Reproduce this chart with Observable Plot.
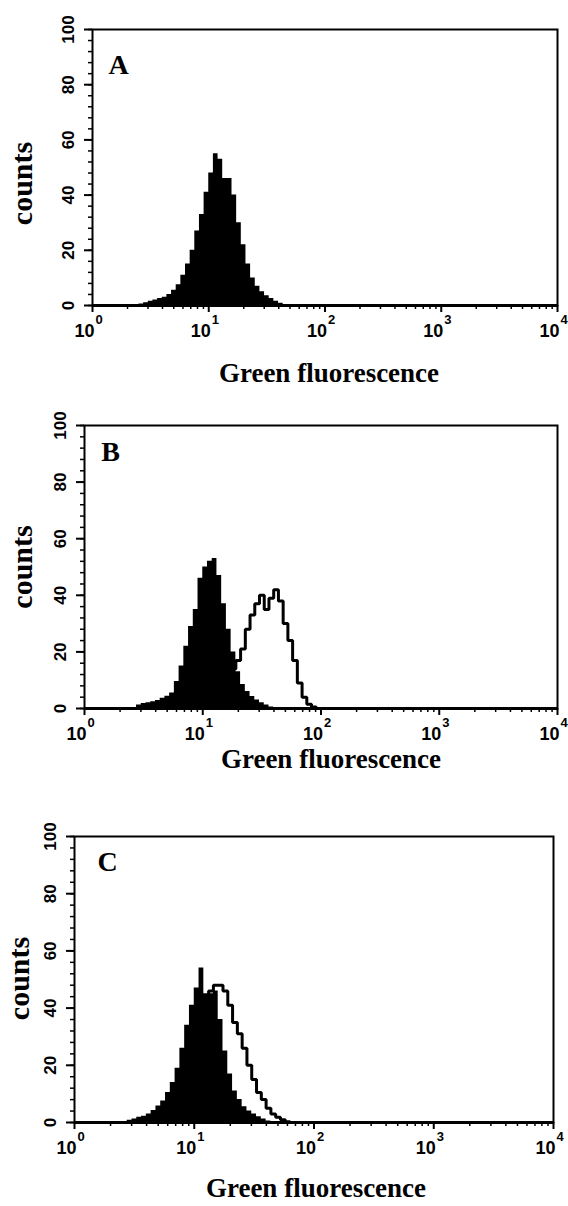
<!DOCTYPE html>
<html><head><meta charset="utf-8">
<script src="https://cdn.jsdelivr.net/npm/d3@7"></script>
<script src="https://cdn.jsdelivr.net/npm/@observablehq/plot@0.6"></script>
<style>
html,body{margin:0;padding:0;background:#fff;overflow:hidden;}
#wrap{position:relative;width:568px;height:1206px;background:#fff;}
#wrap svg{position:absolute;left:0;}
</style></head><body><div id="wrap"></div>
<script>
// bin lower edges in log10(fluorescence) units
const logEdges = [0.36,0.40,0.44,0.48,0.52,0.56,0.60,0.64,0.68,0.72,0.76,0.80,0.84,0.88,0.92,0.96,1.00,1.04,1.08,1.12,1.16,1.20,1.24,1.28,1.32,1.36,1.40,1.44,1.48,1.52,1.56,1.60,1.64,1.68,1.72,1.76,1.80,1.84,1.88,1.92,1.96];
// counts per bin
const countsA_filled = [0.3,0.5,1.0,1.5,2.0,2.5,3.0,4.0,5.5,7.5,11,15,20,27,33,41,48,55,53,46,46,40,30,22,15,10,7,5,3.5,2.5,1.5,0.8,0.3,0,0,0,0,0,0,0];
const countsB_filled = [0,0.3,1.2,1.8,2.0,2.4,2.8,3.6,4.3,5.5,9.5,15,22,29,35,46,50,52,53,47,37,28,20,13,8.5,6,4.2,3,2,1.2,0.5,0,0,0,0,0,0,0,0,0];
const countsB_open   = [0,0,0,0,0,0,0,0,0,0,0,0,0,0,0.5,1,2,3,4.5,6,8,10,14,17,21,28,33,37,40,35,39,42,38,30,24,17,9,4,1.5,0.5];
const countsC_filled = [0,0.3,0.8,1.2,1.8,2.2,3,4.2,5.8,7.5,10.5,14,19,26,34,41,47,54,45,45,46,36,25,17,11,8,5.5,4,3,2,1.2,0.5,0,0,0,0,0,0,0,0];
const countsC_open   = [0,0,0,0,0,0,0,0,0,0,0.5,1.5,3,6,11,18,26,34,41,46,48,48,46,41,35,31,26,20,15,10.5,8,5,3,1.8,1,0.3,0,0,0,0];

const yTicks = [0,20,40,60,80,100];
const xTicks = [1,10,100,1000,10000];
const xTickBase = ["10","10","10","10","10"];
const xTickExp = ["0","1","2","3","4"];
const panelLabels = ["A","B","C"];
const xTitle = "Green fluorescence";
const yTitle = "counts";

const xMinor = [];
for (const k of [1,10,100,1000]) for (const m of [2,3,4,5,6,7,8,9]) xMinor.push(m*k);
const yMinor = d3.range(0, 101, 4);

const SERIF = "'Liberation Serif','Times New Roman',serif";
const SANS = "'Liberation Sans',Arial,sans-serif";

function rows(counts) {
  return logEdges.map((e, i) => ({x: Math.pow(10, e), y: i < counts.length ? counts[i] : 0}));
}
function lineRows(counts) {
  return [{x: Math.pow(10, logEdges[0]), y: 0}, ...rows(counts)];
}

const panels = [
  {label: panelLabels[0], filled: countsA_filled, open: null, top: 0, height: 410,
   mt: 29, mb: 105, ml: 92, mr: 11, labDx: 26, labDy: 36, cDx: -70, cDy: 16, tDx: 4, tDy: 68},
  {label: panelLabels[1], filled: countsB_filled, open: countsB_open, top: 410, height: 410,
   mt: 15, mb: 112, ml: 84, mr: 11, labDx: 26, labDy: 27, cDx: -62, cDy: 0, tDx: 10, tDy: 51},
  {label: panelLabels[2], filled: countsC_filled, open: countsC_open, top: 820, height: 386,
   mt: 16, mb: 84, ml: 74, mr: 15, labDx: 33, labDy: 26, cDx: -55, cDy: -1, tDx: 2, tDy: 66}
];

const wrap = document.getElementById("wrap");
for (const p of panels) {
  const svg = Plot.plot({
    width: 568,
    height: p.height,
    marginTop: p.mt, marginBottom: p.mb, marginLeft: p.ml, marginRight: p.mr,
    style: {background: "white", color: "black"},
    x: {type: "log", domain: [1, 10000]},
    y: {domain: [0, 100]},
    marks: [
      p.open ? Plot.line(lineRows(p.open), {x: "x", y: "y", curve: "step-after", stroke: "black", strokeWidth: 3, strokeLinejoin: "miter"}) : null,
      Plot.areaY(rows(p.filled), {x: "x", y: "y", curve: "step-after", fill: "black"}),
      Plot.frame({stroke: "black", strokeWidth: 2}),
      Plot.ruleY([0], {stroke: "black", strokeWidth: 3}),
      Plot.axisX(xMinor, {tickSize: 4, tickFormat: () => "", label: null, strokeWidth: 1.5}),
      Plot.axisX(xTicks, {tickSize: 7, tickFormat: () => "", label: null, strokeWidth: 2}),
      Plot.axisY(yMinor, {tickSize: 4, tickFormat: () => "", label: null, strokeWidth: 1.5}),
      Plot.axisY(yTicks, {tickSize: 8, tickFormat: () => "", label: null, strokeWidth: 2}),
      Plot.text(yTicks, {y: d => d, text: d => String(d), frameAnchor: "left", dx: -24, rotate: -90,
        textAnchor: "middle", lineAnchor: "middle", fontSize: 17, fontWeight: "bold", fontFamily: SANS, fill: "black"}),
      Plot.text(xTicks, {x: d => d, text: (d, i) => xTickBase[i], frameAnchor: "bottom", dx: 2, dy: 26,
        textAnchor: "end", lineAnchor: "middle", fontSize: 18, fontWeight: "bold", fontFamily: SANS, fill: "black"}),
      Plot.text(xTicks, {x: d => d, text: (d, i) => xTickExp[i], frameAnchor: "bottom", dx: 3, dy: 14,
        textAnchor: "start", lineAnchor: "middle", fontSize: 13, fontWeight: "bold", fontFamily: SANS, fill: "black"}),
      Plot.text([p.label], {text: d => d, frameAnchor: "top-left", dx: p.labDx, dy: p.labDy,
        textAnchor: "middle", lineAnchor: "middle", fontSize: 28, fontWeight: "bold", fontFamily: SERIF, fill: "black"}),
      Plot.text([yTitle], {text: d => d, frameAnchor: "left", dx: p.cDx, dy: p.cDy, rotate: -90,
        textAnchor: "middle", lineAnchor: "middle", fontSize: 30, fontWeight: "bold", fontFamily: SERIF, fill: "black"}),
      Plot.text([xTitle], {text: d => d, frameAnchor: "bottom", dx: p.tDx, dy: p.tDy,
        textAnchor: "middle", lineAnchor: "middle", fontSize: 27, fontWeight: "bold", fontFamily: SERIF, fill: "black"})
    ]
  });
  svg.style.top = p.top + "px";
  wrap.appendChild(svg);
}
</script>
</body></html>
